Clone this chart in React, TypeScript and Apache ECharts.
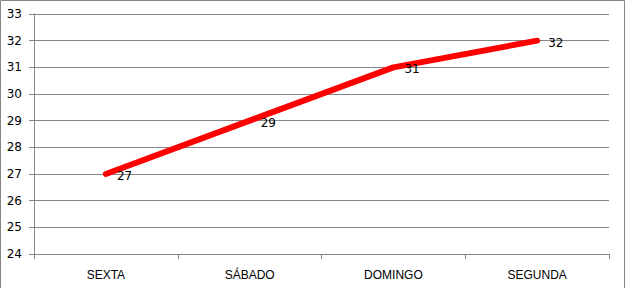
import React, { useEffect, useRef } from "react";
import * as echarts from "echarts";

const categories = ["SEXTA", "SÁBADO", "DOMINGO", "SEGUNDA"];
const values = [27, 29, 31, 32];
const yMin = 24;
const yMax = 33;
const yInterval = 1;

export default function App() {
  const ref = useRef<HTMLDivElement>(null);
  useEffect(() => {
    document.body.style.margin = "0";
    const chart = echarts.init(ref.current!, null, { renderer: "svg" });
    const gray = "#868686";
    chart.setOption({
      animation: false,
      backgroundColor: "#ffffff",
      graphic: [
        {
          type: "rect",
          shape: { x: 0.5, y: 0.5, width: 624, height: 290 },
          style: { fill: "none", stroke: gray, lineWidth: 1 },
          silent: true,
        },
      ],
      grid: { left: 34, right: 17, top: 14, bottom: 34, containLabel: false },
      xAxis: {
        type: "category",
        data: categories,
        boundaryGap: true,
        axisLine: { show: true, lineStyle: { color: gray, width: 1 } },
        axisTick: { show: true, length: 5, lineStyle: { color: gray } },
        axisLabel: {
          color: "#000",
          fontSize: 12,
          fontFamily: "Liberation Sans, Arial, sans-serif",
          margin: 15,
        },
        splitLine: { show: false },
      },
      yAxis: {
        type: "value",
        min: yMin,
        max: yMax,
        interval: yInterval,
        axisLine: { show: true, lineStyle: { color: gray, width: 1 } },
        axisTick: { show: true, length: 5, lineStyle: { color: gray } },
        axisLabel: {
          color: "#000",
          fontSize: 12,
          fontFamily: "DejaVu Sans, Verdana, sans-serif",
          margin: 12,
        },
        splitLine: { show: true, lineStyle: { color: gray, width: 1 } },
      },
      series: [
        {
          type: "line",
          data: values,
          showSymbol: true,
          symbol: "circle",
          symbolSize: 0,
          lineStyle: { color: "#ff0000", width: 6, cap: "round", join: "round" },
          itemStyle: { color: "#ff0000" },
          label: {
            show: true,
            position: "right",
            distance: 11,
            offset: [0, 2],
            color: "#000",
            fontSize: 12,
            fontFamily: "DejaVu Sans, Verdana, sans-serif",
          },
        },
      ],
    });
    return () => chart.dispose();
  }, []);
  return <div ref={ref} style={{ width: 626, height: 288 }} />;
}
